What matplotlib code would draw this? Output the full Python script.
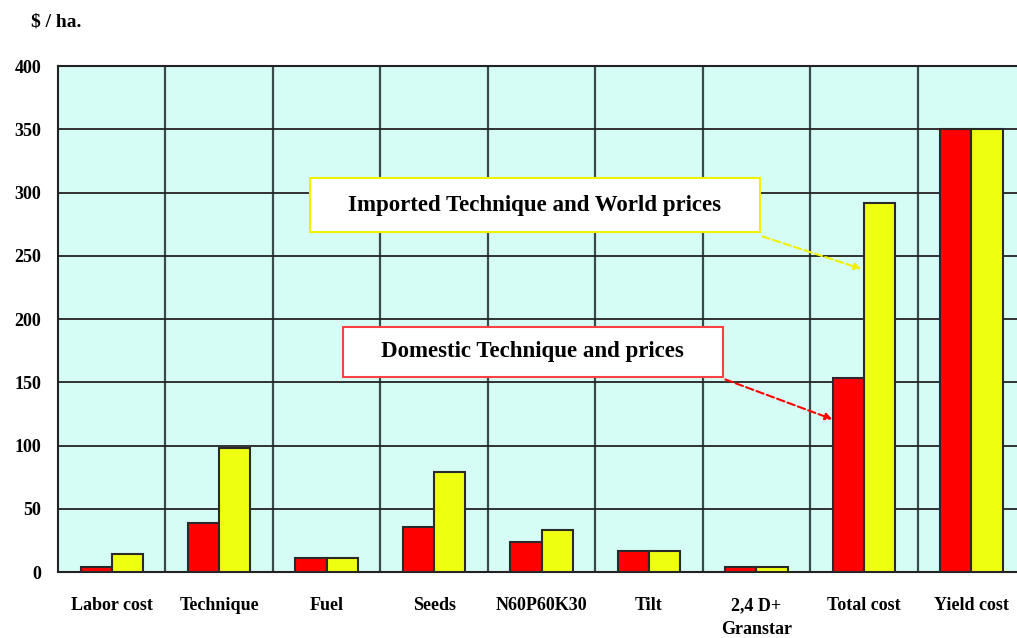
import numpy as np
from matplotlib import pyplot as plt
from matplotlib.patches import Rectangle

# Data
categories = ["Labor cost", "Technique", "Fuel", "Seeds", "N60P60K30", "Tilt",
              "2,4 D+\nGranstar", "Total cost", "Yield cost"]
domestic = [4, 39, 11, 35.5, 24, 16.5, 4, 153, 350]
imported = [14, 98, 11, 79, 33, 16.5, 4, 292, 350]
yticks = [0, 50, 100, 150, 200, 250, 300, 350, 400]

plt.rcParams['font.family'] = ['Liberation Serif', 'DejaVu Serif']
plt.rcParams['font.weight'] = 'bold'

fig = plt.figure(figsize=(10.17, 6.38), dpi=100)
ax = fig.add_axes([0.057, 0.1034, 0.951, 0.7931])
ax.set_facecolor('#d6fdf5')

x = np.arange(len(categories))
w = 0.29
ax.bar(x - w/2, domestic, w, color='#ff0000', edgecolor='#2a2a2a', linewidth=1.5, zorder=3)
ax.bar(x + w/2, imported, w, color='#eeff10', edgecolor='#2a2a2a', linewidth=1.5, zorder=3)

ax.set_xlim(-0.5, len(categories) - 0.5)
ax.set_ylim(0, 400)
ax.set_yticks(yticks)
ax.set_yticklabels([str(v) for v in yticks], fontsize=13, fontweight='bold')
ax.set_xticks(x)
ax.set_xticklabels(categories, fontsize=13, fontweight='bold', linespacing=1.55)
ax.set_xticks(x[:-1] + 0.5, minor=True)
ax.tick_params(axis='both', which='both', length=0)
ax.tick_params(axis='y', pad=12)
ax.tick_params(axis='x', pad=18)
ax.grid(axis='y', which='major', color='#222222', linewidth=1.3, zorder=1)
ax.grid(axis='x', which='minor', color='#3a4a4a', linewidth=1.6, zorder=1)
ax.set_axisbelow(True)
for s in ax.spines.values():
    s.set_color('#222222')
    s.set_linewidth(1.5)

# annotation boxes
ax.add_patch(Rectangle((1.844, 268.8), 6.03 - 1.844, 311.5 - 268.8, facecolor='white',
                       edgecolor='#f0f000', linewidth=1.5, zorder=4))
ax.text((1.844 + 6.03) / 2, 290, "Imported Technique and World prices", ha='center', va='center',
        fontsize=16.5, fontweight='bold', zorder=5)
ax.annotate("", xy=(7.0, 239), xytext=(6.03, 266),
            arrowprops=dict(arrowstyle='-|>', color='#f0f000', linestyle='--', linewidth=1.5), zorder=5)

ax.add_patch(Rectangle((2.151, 154), 5.686 - 2.151, 193.7 - 154, facecolor='white',
                       edgecolor='#ff4040', linewidth=1.5, zorder=4))
ax.text((2.151 + 5.686) / 2, 174, "Domestic Technique and prices", ha='center', va='center',
        fontsize=16.5, fontweight='bold', zorder=5)
ax.annotate("", xy=(6.73, 120), xytext=(5.686, 153),
            arrowprops=dict(arrowstyle='-|>', color='#ff0000', linestyle='--', linewidth=1.5), zorder=5)

fig.text(0.03, 0.965, "$ / ha.", fontsize=14, fontweight='bold', va='center')

plt.savefig('out.png', dpi=100)
